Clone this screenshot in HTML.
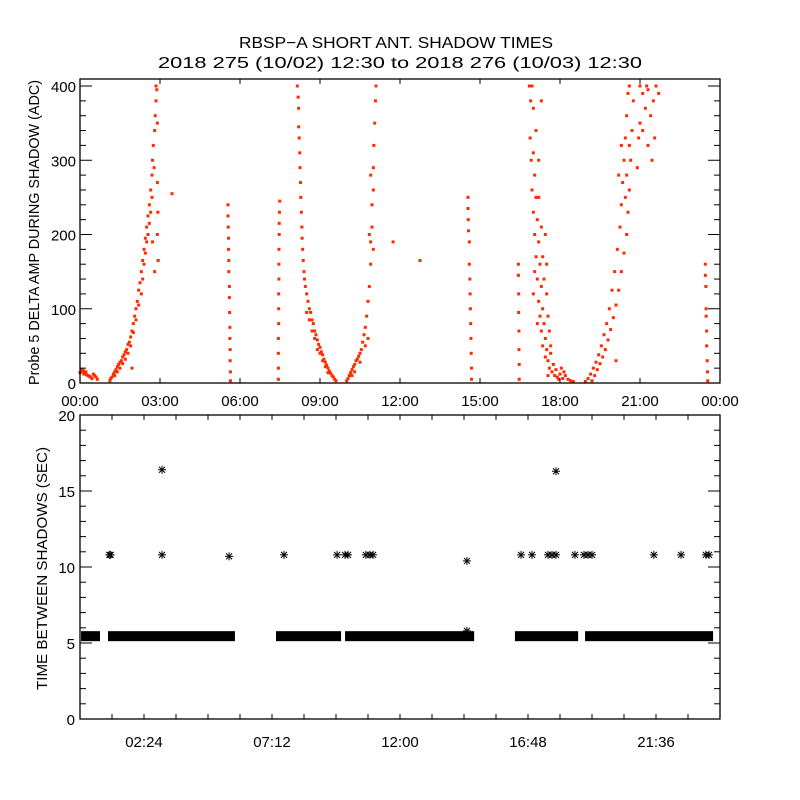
<!DOCTYPE html>
<html><head><meta charset="utf-8"><style>
body{margin:0;background:#fff;}
svg{display:block;font-family:"Liberation Sans",sans-serif;}
text{fill:#000;font-size:15px;}
</style></head><body>
<svg id="chart" width="800" height="800" viewBox="0 0 800 800">
<rect width="800" height="800" fill="#fff"/>
<text x="239" y="48" textLength="314" lengthAdjust="spacingAndGlyphs" style="font-size:16px">RBSP−A SHORT ANT. SHADOW TIMES</text>
<text x="158" y="68" textLength="484" lengthAdjust="spacingAndGlyphs" style="font-size:16px">2018 275 (10/02) 12:30 to 2018 276 (10/03) 12:30</text>
<g id="topPanel"></g>
<g id="botPanel"></g>
<text transform="translate(39,385) rotate(-90)" textLength="305" lengthAdjust="spacingAndGlyphs" style="font-size:15px">Probe 5 DELTA AMP DURING SHADOW (ADC)</text>
<text transform="translate(47,690) rotate(-90)" textLength="243" lengthAdjust="spacingAndGlyphs" style="font-size:15px">TIME BETWEEN SHADOWS (SEC)</text>
</svg>
<script>
// ---- data: top panel (hour of day, ADC) ----
const seg0 = [[0.0,14],[0.05,18],[0.1,15],[0.12,17],[0.15,12],[0.2,13],[0.22,15],[0.25,11],[0.3,10],[0.35,9],[0.4,8],[0.45,6],[0.5,12],[0.55,10],[0.6,8],[0.65,5]];
const arc1 = [[1.12,3],[1.15,6],[1.2,8],[1.25,12],[1.3,10],[1.3,15],[1.35,18],[1.4,15],[1.4,22],[1.45,25],[1.5,20],[1.5,28],[1.55,30],[1.6,26],[1.6,35],[1.65,38],[1.7,32],[1.7,42],[1.75,45],[1.8,40],[1.8,52],[1.85,55],[1.9,50],[1.9,62],[1.95,70],[2.0,68],[2.0,80],[2.05,90],[2.1,85],[2.1,100],[2.15,110],[2.2,105],[2.2,125],[2.25,135],[2.3,120],[2.3,150],[2.35,140],[2.35,165],[2.4,160],[2.4,180],[2.45,175],[2.45,195],[2.5,190],[2.5,210],[2.55,200],[2.55,225],[2.6,215],[2.6,240],[2.65,230],[2.65,260],[2.7,250],[2.7,280],[2.72,300],[2.75,320],[2.78,290],[2.8,340],[2.82,360],[2.85,380],[2.88,395],[2.9,350],[2.9,270],[2.92,230],[2.9,200],[2.93,165],[2.8,150],[2.72,190],[1.95,20],[2.85,400],[3.45,255]];
const line1 = [[5.55,240],[5.55,225],[5.56,210],[5.57,195],[5.57,180],[5.58,165],[5.58,150],[5.6,130],[5.6,115],[5.61,95],[5.62,75],[5.62,60],[5.63,45],[5.63,30],[5.64,15],[5.64,3]];
const line2 = [[7.49,245],[7.48,230],[7.47,215],[7.47,200],[7.46,180],[7.46,160],[7.46,140],[7.45,120],[7.45,100],[7.45,80],[7.44,60],[7.44,40],[7.44,20],[7.44,5]];
const arc2 = [[8.15,400],[8.18,385],[8.2,370],[8.2,345],[8.22,330],[8.24,310],[8.25,290],[8.27,270],[8.28,250],[8.3,230],[8.32,210],[8.33,195],[8.35,180],[8.37,165],[8.4,150],[8.42,140],[8.45,130],[8.5,120],[8.55,110],[8.6,100],[8.65,95],[8.7,85],[8.75,80],[8.8,70],[8.85,65],[8.9,58],[8.95,52],[9.0,48],[9.05,42],[9.1,38],[9.15,32],[9.2,28],[9.25,24],[9.3,20],[9.35,16],[9.4,13],[9.45,10],[9.5,8],[9.55,5],[9.6,3],[8.5,95],[8.6,85],[8.7,70],[8.8,60],[8.9,45],[9.0,40],[9.1,30],[9.2,22],[9.3,14]];
const arc3 = [[10.0,3],[10.05,6],[10.1,10],[10.15,14],[10.2,18],[10.25,22],[10.3,25],[10.35,30],[10.4,32],[10.45,36],[10.5,40],[10.55,45],[10.6,55],[10.65,65],[10.7,75],[10.75,90],[10.8,110],[10.85,130],[10.9,160],[10.9,190],[10.95,210],[10.95,240],[11.0,260],[11.0,290],[11.02,320],[11.05,350],[11.08,380],[11.1,400],[10.85,200],[10.9,280],[11.0,180],[10.3,15],[10.5,28],[10.7,50],[10.8,60],[10.2,10],[11.74,190],[12.75,165]];
const line3 = [[14.55,250],[14.55,235],[14.56,220],[14.57,205],[14.6,190],[14.6,160],[14.62,140],[14.63,120],[14.64,100],[14.65,80],[14.66,60],[14.67,40],[14.68,20],[14.68,5]];
const line4 = [[16.44,160],[16.44,145],[16.45,120],[16.45,95],[16.46,70],[16.46,45],[16.47,25],[16.47,5]];
const arc4 = [[16.85,400],[16.9,380],[16.95,400],[17.0,370],[16.88,330],[16.92,300],[17.0,310],[17.05,280],[16.95,260],[17.1,250],[17.0,230],[17.15,220],[17.05,200],[17.2,190],[17.1,170],[17.25,160],[17.15,140],[17.3,130],[17.2,110],[17.35,100],[17.25,90],[17.4,80],[17.3,70],[17.45,60],[17.35,50],[17.5,45],[17.45,35],[17.55,30],[17.6,20],[17.7,15],[17.8,10],[17.9,8],[18.0,12],[18.1,6],[18.2,10],[18.3,5],[18.4,3],[18.5,2],[17.65,40],[17.75,25],[17.85,18],[17.95,5],[18.05,20],[18.15,15],[17.1,340],[17.2,300],[17.3,210],[17.35,170],[17.4,140],[17.5,120],[17.55,90],[17.6,70],[17.65,50],[17.2,250],[17.45,200],[17.5,160],[17.3,380],[17.05,150],[17.0,120],[17.15,80],[17.55,10]];
const arc5a = [[18.95,2],[19.05,6],[19.15,12],[19.25,20],[19.35,28],[19.45,38],[19.55,50],[19.65,65],[19.75,80],[19.85,100],[19.95,125],[20.05,150],[20.15,180],[20.25,210],[20.3,240],[20.35,270],[20.4,300],[20.45,330],[20.5,360],[20.55,390],[20.6,400]];
const arc5b = [[19.2,3],[19.3,10],[19.4,18],[19.5,26],[19.6,35],[19.7,45],[19.8,58],[19.9,72],[20.0,88],[20.1,105],[20.2,125],[20.3,150],[20.4,175],[20.5,200],[20.55,230],[20.6,260],[20.65,300],[20.7,340],[20.75,380],[20.1,30],[20.45,250],[20.5,280],[20.6,320],[20.3,320],[20.2,280]];
const cluster = [[21.0,400],[21.1,390],[21.2,370],[21.3,395],[21.4,360],[21.5,380],[21.6,400],[21.1,340],[21.3,320],[21.45,300],[21.55,330],[21.0,350],[21.25,400],[21.7,390],[20.9,290],[20.95,330]];
const line5 = [[23.45,160],[23.45,145],[23.47,130],[23.48,100],[23.48,90],[23.5,70],[23.5,50],[23.52,30],[23.53,15],[23.54,3]];
const topYTicks = [0,100,200,300,400];
const topXLabels = ["00:00","03:00","06:00","09:00","12:00","15:00","18:00","21:00","00:00"];
// ---- data: bottom panel ----
const runStart = [0.04,1.05,7.35,9.94,16.31,18.94];
const runEnd   = [0.75,5.81,9.79,14.78,18.68,23.74];
const runValue = [5.45,5.45,5.45,5.45,5.45,5.45];
const starHours  = [1.1,1.15,3.075,5.59,7.65,9.64,9.94,10.05,10.72,10.87,10.99,14.51,16.54,16.95,17.55,17.7,17.85,18.56,18.9,19.05,19.2,21.52,22.54,23.47,23.59,3.075,17.85,14.51];
const starValues = [10.8,10.8,10.8,10.7,10.8,10.8,10.8,10.8,10.8,10.8,10.8,10.4,10.8,10.8,10.8,10.8,10.8,10.8,10.8,10.8,10.8,10.8,10.8,10.8,10.8,16.4,16.3,5.8];
const botYTicks = [0,5,10,15,20];
const botXLabels = ["02:24","07:12","12:00","16:48","21:36"];

const NS="http://www.w3.org/2000/svg";
function mk(tag,attrs,parent){const e=document.createElementNS(NS,tag);for(const k in attrs)e.setAttribute(k,attrs[k]);parent.appendChild(e);return e;}
const L=80,R=720;
const xh=h=>L+(h/24)*(R-L);
const T1=79,B1=383; const yTop=v=>B1-v*0.7425;
const T2=415,B2=719; const yBot=v=>B2-v*(B2-T2)/20;

const topG=document.getElementById('topPanel');
const botG=document.getElementById('botPanel');
const red="#ff2a00";
[seg0,arc1,line1,line2,arc2,arc3,line3,line4,arc4,arc5a,arc5b,cluster,line5].forEach(seg=>{
  seg.forEach(p=>{
    const r=mk('rect',{x:xh(p[0])-1.5,y:yTop(p[1])-1.5,width:3,height:3,fill:red},topG);
    
    
  });
});
let f=mk('rect',{x:L,y:T1,width:R-L,height:B1-T1,fill:'none',stroke:'#000','stroke-width':1.3},topG);


for(let v=0;v<=400;v+=20){
  const y=yTop(v),len=(v%100===0)?12:6;
  mk('line',{x1:L,x2:L+len,y1:y,y2:y,stroke:'#000'},topG);
  mk('line',{x1:R,x2:R-len,y1:y,y2:y,stroke:'#000'},topG);
}
topYTicks.forEach(v=>{
  const t=mk('text',{x:L-4,y:yTop(v)+6,'text-anchor':'end'},topG);t.textContent=v;
  
  
});
topXLabels.forEach((s,i)=>{
  const x=xh(i*3);
  mk('line',{x1:x,x2:x,y1:B1,y2:B1-5,stroke:'#000'},topG);
  mk('line',{x1:x,x2:x,y1:T1,y2:T1+5,stroke:'#000'},topG);
  const t=mk('text',{x:x,y:406,'text-anchor':'middle'},topG);t.textContent=s;
  
  
});
runStart.forEach((s,i)=>{
  const r=mk('rect',{x:xh(s),y:yBot(runValue[i])-5,width:xh(runEnd[i])-xh(s),height:10,fill:'#000'},botG);
  
  
});
starHours.forEach((h,i)=>{
  const cx=xh(h),cy=yBot(starValues[i]);
  const g=mk('g',{stroke:'#000','stroke-width':1},botG);
  
  
  mk('line',{x1:cx-4,x2:cx+4,y1:cy,y2:cy},g);
  mk('line',{x1:cx,x2:cx,y1:cy-4,y2:cy+4},g);
  mk('line',{x1:cx-3,x2:cx+3,y1:cy-3,y2:cy+3},g);
  mk('line',{x1:cx-3,x2:cx+3,y1:cy+3,y2:cy-3},g);
});
f=mk('rect',{x:L,y:T2,width:R-L,height:B2-T2,fill:'none',stroke:'#000','stroke-width':1.3},botG);


for(let v=0;v<=20;v+=1){
  const y=yBot(v),len=(v%5===0)?12:6;
  mk('line',{x1:L,x2:L+len,y1:y,y2:y,stroke:'#000'},botG);
  mk('line',{x1:R,x2:R-len,y1:y,y2:y,stroke:'#000'},botG);
}
botYTicks.forEach(v=>{
  const t=mk('text',{x:L-5,y:yBot(v)+6,'text-anchor':'end'},botG);t.textContent=v;
  
  
});
for(let k=1;k<20;k++){
  const x=xh(k*1.2);
  mk('line',{x1:x,x2:x,y1:B2,y2:B2-5,stroke:'#000'},botG);
  mk('line',{x1:x,x2:x,y1:T2,y2:T2+5,stroke:'#000'},botG);
}
botXLabels.forEach((s,i)=>{
  const t=mk('text',{x:xh(2.4+i*4.8),y:747,'text-anchor':'middle'},botG);t.textContent=s;
  
  
});
</script>
</body></html>
